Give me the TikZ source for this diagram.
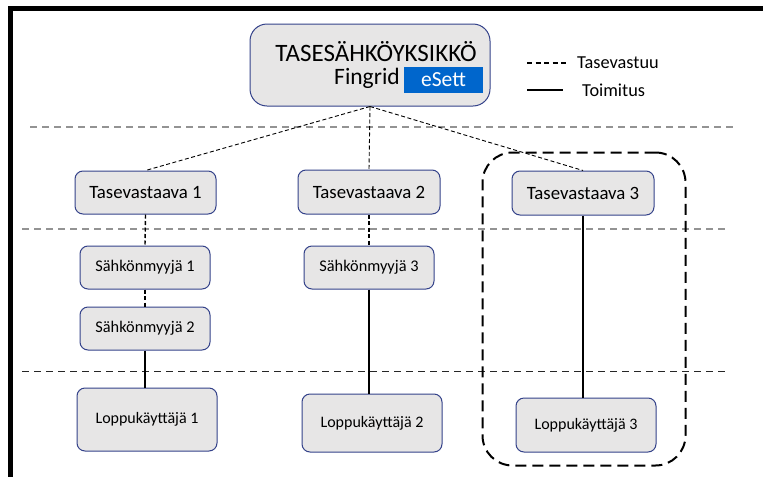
\documentclass[tikz,border=0pt]{standalone}
\usepackage{fontspec}
\setmainfont{Carlito}
\begin{document}
\begin{tikzpicture}[x=1pt,y=-1pt,
  box/.style={draw=boxblue, line width=1pt, fill=boxgray, rounded corners=8pt, inner sep=0pt, align=center},
  gline/.style={draw=gray!85, line width=1.2pt, dash pattern=on 7pt off 5pt},
  bline/.style={draw=black!85, line width=1pt, dash pattern=on 7pt off 5pt},
  tv/.style={draw=black, line width=0.9pt, dash pattern=on 4pt off 2.5pt},
  tm/.style={draw=black, line width=1.2pt}]
\definecolor{boxblue}{HTML}{34428A}
\definecolor{boxgray}{HTML}{E7E6E6}
\definecolor{esett}{HTML}{0066CC}
\useasboundingbox (0,0) rectangle (763,477);
\fill[white] (0,0) rectangle (763,477);
% frame
\fill[black] (8,6) rectangle (763,10.5);
\fill[black] (8,6) rectangle (13,477);
% horizontal lines
\coordinate (h1a) at (30,127); \coordinate (h1b) at (735,127);
\coordinate (h2a) at (22,229); \coordinate (h2b) at (725,229);
\coordinate (h3a) at (22,371); \coordinate (h3b) at (725,371);
\draw[gline] (h1a) -- (h1b);
\draw[gline] (h2a) -- (h2b);
\draw[bline] (h3a) -- (h3b);
% group
\node[draw=black, line width=2pt, dash pattern=on 11pt off 6pt, rounded corners=30pt, minimum width=203pt, minimum height=313pt] (grp) at (584,309) {};
% top box
\node[box, rounded corners=17pt, minimum width=240pt, minimum height=82pt] (top) at (370,65) {};
\node[inner sep=0pt, font=\fontsize{25}{25}\selectfont] (title) at (376,52) {TASESÄHKÖYKSIKKÖ};
\node[inner sep=0pt, font=\fontsize{23.5}{23.5}\selectfont] (fg) at (367,78.5) {Fingrid};
\node[fill=esett, inner sep=0pt, minimum width=79pt, minimum height=26pt, text=white, font=\fontsize{21.5}{21.5}\selectfont] (es) at (443.5,80) {eSett};
% legend
\coordinate (la) at (527,63); \coordinate (lb) at (568,63);
\coordinate (lc) at (527,90); \coordinate (ld) at (563,90);
\draw[tv, line width=1.1pt, dash pattern=on 5pt off 3.5pt] (la) -- (lb);
\draw[tm] (lc) -- (ld);
\node[anchor=west, inner sep=0pt, font=\fontsize{18.3}{18.3}\selectfont] (lt1) at (577,63) {Tasevastuu};
\node[anchor=west, inner sep=0pt, font=\fontsize{18.3}{18.3}\selectfont] (lt2) at (582,90) {Toimitus};
% level 1
\node[box, minimum width=141pt, minimum height=43pt, font=\fontsize{18.8}{18.8}\selectfont] (t1) at (145.5,192.5) {Tasevastaava 1};
\node[box, minimum width=142pt, minimum height=44pt, font=\fontsize{18.8}{18.8}\selectfont] (t2) at (369,192) {Tasevastaava 2};
\node[box, minimum width=142pt, minimum height=44pt, font=\fontsize{18.8}{18.8}\selectfont] (t3) at (583,193) {Tasevastaava 3};
% level 2
\node[box, minimum width=130pt, minimum height=43pt, font=\fontsize{16.3}{16.3}\selectfont] (s1) at (145,267.5) {Sähkönmyyjä 1};
\node[box, minimum width=130pt, minimum height=43pt, font=\fontsize{16.3}{16.3}\selectfont] (s2) at (145,328.5) {Sähkönmyyjä 2};
\node[box, minimum width=130pt, minimum height=43pt, font=\fontsize{16.3}{16.3}\selectfont] (s3) at (369,267.5) {Sähkönmyyjä 3};
% level 3
\node[box, minimum width=140pt, minimum height=63pt, font=\fontsize{16}{16}\selectfont] (l1) at (147,419.5) {Loppukäyttäjä 1};
\node[box, minimum width=140pt, minimum height=58pt, font=\fontsize{16}{16}\selectfont] (l2) at (372,423) {Loppukäyttäjä 2};
\node[box, minimum width=140pt, minimum height=54pt, font=\fontsize{16}{16}\selectfont] (l3) at (586,425) {Loppukäyttäjä 3};
% connectors
\draw[tv] (top.south) -- (t1.north);
\draw[tv] (top.south) -- (t2.north);
\draw[tv] (top.south) -- (t3.north);
\draw[tv, line width=1.4pt] (t1.south) -- (s1.north);
\draw[tv, line width=1.4pt] (s1.south) -- (s2.north);
\draw[tv, line width=1.4pt] (t2.south) -- (s3.north);
\draw[tm] (s2.south) -- (l1.north -| s2.south);
\draw[tm] (s3.south) -- (l2.north -| s3.south);
\draw[tm] (t3.south) -- (l3.north -| t3.south);
\end{tikzpicture}
\end{document}
